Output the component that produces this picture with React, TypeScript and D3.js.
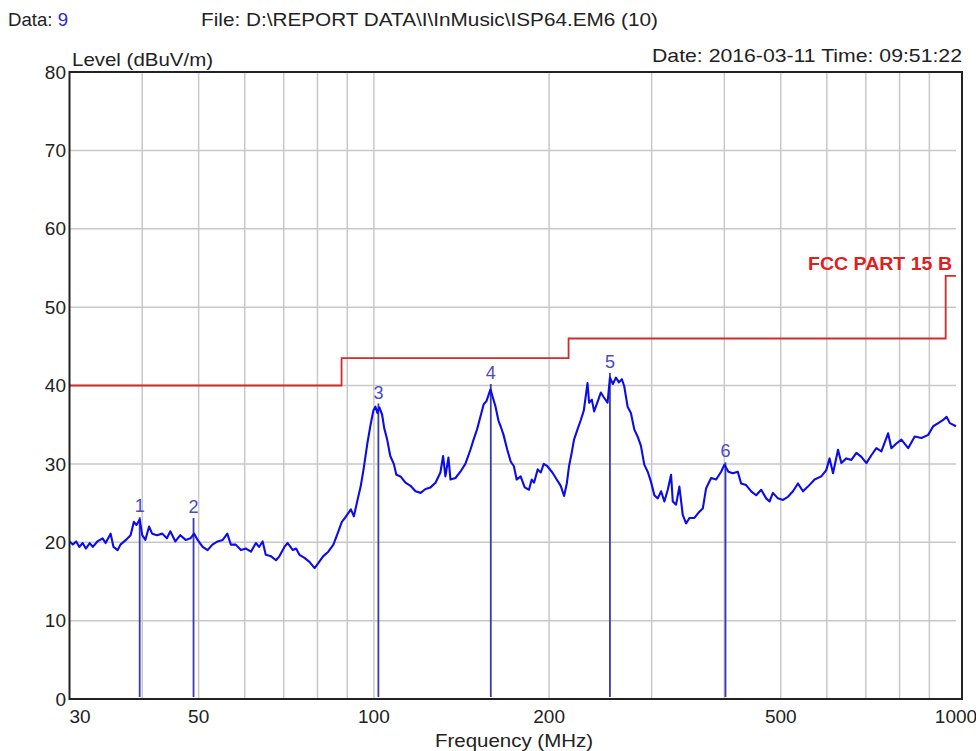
import React from "react";
import * as d3 from "d3";

const FREQ = [
  30.0, 30.4, 30.8, 31.2, 31.6, 32.0, 32.5, 32.9, 33.5, 34.2, 34.6, 35.3, 35.7, 36.3, 36.7, 37.5, 38.2, 38.7, 39.1, 39.6,
  40.0, 40.5, 41.1, 41.6, 42.4, 43.3, 44.1, 44.7, 45.6, 46.5, 47.5, 48.4, 49.1, 49.8, 50.8, 51.8, 52.8, 53.9, 55.0, 56.0,
  56.8, 57.9, 59.1, 60.3, 61.5, 62.7, 63.5, 64.4, 65.2, 66.6, 67.9, 68.8, 70.2, 71.1, 72.6, 73.5, 74.5, 76.0, 77.5, 79.1,
  80.2, 81.8, 83.5, 85.2, 86.9, 88.1, 89.2, 91.3, 92.4, 93.8, 94.9, 96.0, 97.4, 98.7, 99.8, 100.6, 101.4, 102.2, 103.3, 104.2,
  105.4, 106.7, 108.2, 109.3, 111.1, 113.3, 115.6, 117.9, 120.3, 122.7, 125.1, 127.6, 130.1, 131.5, 132.7, 134.3, 135.4, 138.1, 140.8, 143.6,
  146.5, 148.2, 150.4, 152.4, 154.4, 156.1, 158.6, 159.9, 161.8, 163.7, 165.1, 167.0, 169.5, 171.8, 174.0, 175.9, 178.7, 181.6, 184.7, 186.7,
  188.4, 191.2, 193.5, 195.8, 198.6, 202.6, 206.1, 209.4, 212.2, 214.5, 216.4, 218.8, 220.7, 224.0, 226.7, 229.4, 232.8, 234.3, 236.8, 239.0,
  242.5, 245.4, 248.3, 252.0, 254.4, 257.4, 260.5, 263.6, 266.7, 269.2, 272.8, 276.4, 280.1, 283.8, 287.6, 291.4, 295.4, 299.3, 303.3, 307.4,
  311.5, 315.5, 319.8, 324.0, 326.2, 330.5, 334.8, 339.3, 343.8, 348.4, 355.3, 362.4, 367.3, 372.2, 379.6, 387.2, 394.9, 400.1, 406.5, 413.6,
  421.9, 427.4, 436.0, 444.8, 453.7, 462.8, 472.0, 478.3, 484.7, 494.4, 504.3, 514.4, 524.7, 535.2, 545.9, 556.8, 571.6, 586.9, 598.6, 606.5,
  614.8, 627.1, 635.4, 648.1, 661.1, 674.3, 687.8, 701.5, 715.5, 729.8, 744.4, 764.4, 774.5, 790.0, 805.8, 827.6, 849.4, 872.4, 895.9, 913.8,
  932.1, 950.7, 963.3, 976.0, 1000
];

const LEVEL = [
  20.1, 19.7, 20.1, 19.4, 19.9, 19.2, 19.9, 19.4, 20.1, 20.5, 19.9, 21.1, 19.4, 19.0, 19.7, 20.3, 20.9, 22.6, 22.2, 22.9,
  20.9, 20.3, 22.0, 21.1, 20.9, 21.1, 20.5, 21.4, 20.1, 20.9, 20.3, 20.5, 21.1, 20.3, 19.4, 19.0, 19.7, 20.1, 20.3, 21.1,
  19.7, 19.7, 19.0, 19.2, 18.8, 19.9, 19.4, 20.1, 18.4, 18.2, 17.7, 18.2, 19.4, 19.9, 19.0, 19.2, 18.4, 18.0, 17.5, 16.7,
  17.3, 18.2, 18.8, 19.7, 21.4, 22.6, 23.1, 24.2, 23.3, 25.5, 27.1, 29.3, 32.5, 35.0, 36.8, 37.3, 36.5, 37.2, 36.3, 34.5,
  33.1, 31.0, 30.0, 28.6, 28.4, 27.6, 27.2, 26.5, 26.3, 26.8, 27.0, 27.6, 28.9, 31.0, 28.4, 30.8, 28.0, 28.2, 29.0, 30.0,
  31.8, 33.0, 34.4, 36.0, 37.6, 38.0, 39.5, 38.6, 37.3, 35.5, 34.8, 33.7, 31.8, 30.3, 29.7, 28.0, 28.4, 27.0, 26.7, 28.0,
  27.6, 29.3, 28.9, 30.0, 29.7, 28.9, 28.0, 27.2, 25.9, 27.5, 29.7, 31.5, 33.1, 34.5, 35.6, 36.8, 40.3, 37.8, 38.2, 36.7,
  38.0, 39.1, 38.5, 37.8, 41.0, 40.2, 41.0, 40.4, 40.8, 39.9, 37.3, 36.5, 34.4, 33.5, 32.3, 29.9, 29.0, 27.7, 26.0, 25.6,
  26.5, 25.2, 26.7, 28.6, 25.2, 24.8, 27.1, 23.5, 22.4, 23.1, 23.1, 23.9, 24.3, 26.9, 28.2, 28.0, 29.0, 29.9, 29.0, 28.8,
  29.0, 27.5, 27.3, 26.5, 26.0, 26.7, 25.6, 25.2, 26.3, 25.6, 25.4, 25.8, 26.5, 27.5, 26.5, 27.1, 28.0, 28.4, 29.2, 30.7,
  28.8, 31.8, 30.1, 30.7, 30.5, 31.4, 30.9, 30.1, 31.1, 32.0, 31.6, 33.9, 32.0, 32.6, 33.1, 32.0, 33.5, 33.3, 33.7, 34.8,
  35.2, 35.6, 36.0, 35.2, 34.8
];

const MARKER_FREQ = [39.6, 49.0, 101.8, 158.8, 254.4, 401.8];
const MARKER_LEVEL = [23.2, 23.1, 37.7, 40.2, 41.6, 30.2];
const MARKER_LABELS = ["1", "2", "3", "4", "5", "6"];

const LIMIT_FREQ = [30, 88, 216, 960, 1000];
const LIMIT_LEVEL = [40, 43.5, 46, 54, 54];
const LIMIT_NAME = "FCC PART 15 B";

const Y_TICKS = [0, 10, 20, 30, 40, 50, 60, 70, 80];
const X_TICKS = [30, 50, 100, 200, 500, 1000];
const X_GRID = [40, 50, 60, 70, 80, 90, 100, 200, 300, 400, 500, 600, 700, 800, 900];

const FONT = "'Liberation Sans', Arial, sans-serif";

export default function App() {
  const x = d3.scaleLog().domain([30, 1000]).range([69.5, 956]);
  const y = d3.scaleLinear().domain([0, 80]).range([699, 72]);
  const frameRight = 962;

  const trace = d3
    .line<number>()
    .x((_, i) => x(FREQ[i]))
    .y((d) => y(d))(LEVEL) as string;

  const limit = d3
    .line<number>()
    .x((_, i) => x(LIMIT_FREQ[i]))
    .y((d) => y(d))
    .curve(d3.curveStepAfter)(LIMIT_LEVEL) as string;

  const textColor = "#222";

  return (
    <div style={{ position: "absolute", left: 0, top: 0, width: 976, height: 751, background: "#fff" }}>
      <svg width={976} height={751} style={{ display: "block", fontFamily: FONT }}>
        <rect x={0} y={0} width={976} height={751} fill="#fff" />

        {/* header */}
        <text x={8} y={26} fontSize={19} fill={textColor} textLength={60} lengthAdjust="spacingAndGlyphs">
          Data: <tspan fill="#2a2ad0">9</tspan>
        </text>
        <text x={201} y={26} fontSize={19} fill={textColor} textLength={457} lengthAdjust="spacingAndGlyphs">
          {"File: D:\\REPORT DATA\\I\\InMusic\\ISP64.EM6  (10)"}
        </text>
        <text x={72} y={66} fontSize={19} fill={textColor} textLength={141} lengthAdjust="spacingAndGlyphs">
          Level (dBuV/m)
        </text>
        <text x={652} y={62} fontSize={19} fill={textColor} textLength={310} lengthAdjust="spacingAndGlyphs">
          {"Date: 2016-03-11  Time: 09:51:22"}
        </text>

        {/* grid */}
        {Y_TICKS.filter((t) => t > 0 && t < 80).map((t) => (
          <line key={"h" + t} x1={x(30)} x2={x(1000)} y1={y(t)} y2={y(t)} stroke="#c8c8c8" strokeWidth={1.5} />
        ))}
        {X_GRID.map((f) => (
          <line key={"v" + f} x1={x(f)} x2={x(f)} y1={y(80)} y2={y(0)} stroke="#c8c8c8" strokeWidth={1.5} />
        ))}

        {/* limit line */}
        <path d={limit} fill="none" stroke="#d42a2a" strokeWidth={1.8} />
        <text
          x={952}
          y={270}
          fontSize={19}
          fontWeight="bold"
          fill="#e02020"
          textAnchor="end"
          textLength={144}
          lengthAdjust="spacingAndGlyphs"
        >
          {LIMIT_NAME}
        </text>

        {/* markers */}
        {MARKER_FREQ.map((f, i) => (
          <g key={"m" + i}>
            <line x1={x(f)} x2={x(f)} y1={y(MARKER_LEVEL[i])} y2={y(0) - 2} stroke="#3a3ab0" strokeWidth={1.8} />
            <text x={x(f)} y={y(MARKER_LEVEL[i]) - 5} fontSize={18} fill="#4a4ac8" textAnchor="middle">
              {MARKER_LABELS[i]}
            </text>
          </g>
        ))}

        {/* trace */}
        <path d={trace} fill="none" stroke="#0c0ce8" strokeWidth={2.1} strokeLinejoin="round" />

        {/* frame */}
        <rect x={x(30)} y={y(80)} width={frameRight - x(30)} height={y(0) - y(80)} fill="none" stroke="#222" strokeWidth={2} />

        {/* y tick labels */}
        {Y_TICKS.map((t) => (
          <text key={"yl" + t} x={66} y={y(t)} dy="0.35em" fontSize={19} fill={textColor} textAnchor="end">
            {t}
          </text>
        ))}

        {/* x tick labels */}
        {X_TICKS.map((t, i) => (
          <text
            key={"xl" + t}
            x={x(t)}
            y={723}
            fontSize={19}
            fill={textColor}
            textAnchor={i === 0 ? "start" : "middle"}
          >
            {t}
          </text>
        ))}
        <text x={514} y={747} fontSize={19} fill={textColor} textAnchor="middle" textLength={158} lengthAdjust="spacingAndGlyphs">
          Frequency (MHz)
        </text>
      </svg>
    </div>
  );
}
